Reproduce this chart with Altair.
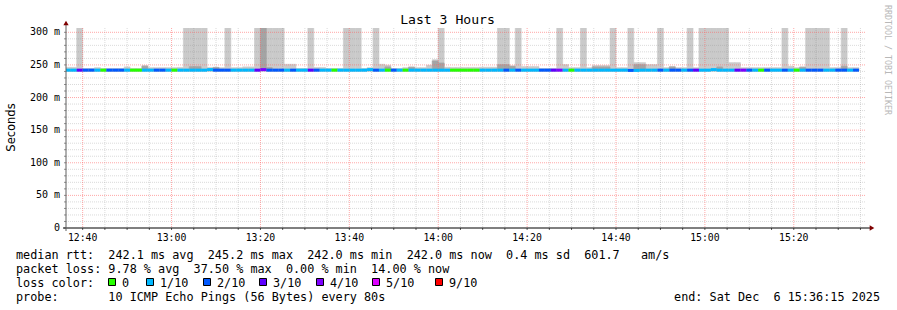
import altair as alt
import pandas as pd

# ---------------- data ----------------
# one sample every 80 s, first sample starts 12:36:00 (seconds since midnight)
SAMPLE_START = 45360
STEP = 80
T = 320  # smoke reaching above the top of the graph

loss = [
    1, 1, 3, 2, 2, 1, 0, 2, 2, 2,
    1, 0, 0, 1, 1, 2, 2, 1, 0, 1,
    1, 1, 1, 1, 1, 2, 2, 2, 1, 1,
    1, 1, 3, 4, 2, 2, 2, 1, 2, 1,
    1, 3, 2, 1, 1, 0, 1, 1, 1, 1,
    1, 1, 2, 1, 0, 2, 1, 0, 1, 1,
    1, 1, 1, 1, 1, 0, 0, 0, 0, 0,
    1, 1, 1, 1, 2, 1, 2, 1, 1, 1,
    2, 2, 3, 4, 1, 0, 1, 1, 1, 1,
    1, 1, 1, 1, 1, 2, 1, 1, 1, 1,
    2, 1, 2, 2, 1, 2, 3, 1, 1, 1,
    1, 1, 1, 3, 4, 2, 1, 0, 2, 1,
    1, 2, 1, 0, 1, 2, 2, 2, 1, 1,
    2, 2, 1, 2,
]

median_ms = [
    242.0, 242.0, 242.0, 242.0, 242.0, 242.0, 242.0, 242.0, 242.0, 242.0,
    242.0, 242.0, 242.0, 242.0, 242.0, 242.0, 242.0, 242.0, 242.0, 242.0,
    242.0, 242.0, 242.0, 242.0, 242.8, 242.0, 242.0, 242.0, 242.0, 242.0,
    242.0, 242.0, 242.0, 242.8, 242.0, 242.0, 242.0, 242.0, 242.0, 242.0,
    242.0, 242.0, 242.0, 242.0, 242.0, 242.0, 242.0, 242.0, 242.0, 242.0,
    242.0, 242.8, 242.0, 242.0, 242.0, 242.0, 242.0, 242.0, 242.0, 242.0,
    242.0, 242.0, 242.0, 242.0, 242.0, 242.0, 242.0, 242.0, 242.0, 242.0,
    242.0, 242.0, 242.0, 242.0, 242.0, 242.0, 242.0, 242.0, 242.0, 242.0,
    242.0, 242.0, 242.0, 242.0, 242.0, 242.0, 242.0, 242.0, 242.0, 242.0,
    242.0, 242.0, 242.0, 242.0, 242.0, 241.6, 241.6, 242.0, 242.0, 242.0,
    242.0, 242.0, 242.0, 242.0, 242.0, 242.0, 242.0, 242.0, 242.0, 242.8,
    242.0, 242.0, 242.0, 242.0, 242.0, 242.0, 242.0, 242.0, 242.0, 242.0,
    242.0, 242.0, 242.0, 242.0, 242.0, 242.0, 242.0, 242.0, 242.0, 242.0,
    242.0, 242.0, 242.0, 242.0,
]

smoke_lo = 240.5
smoke_hi = [
    246.3, 246.3, T, 244.5, 244.5, 245.8, 244.5, 244.5, 244.5, 244.5,
    247.0, 244.5, 244.5, 249.0, 245.8, 245.8, 245.8, 245.8, 245.8, 246.2,
    T, T, T, T, 246.2, 246.5, 245.8, T, 245.8, 245.8,
    247.0, 247.0, T, T, T, T, T, 251.0, 251.0, 244.5,
    244.5, T, 246.2, 246.2, 244.5, 244.5, 244.5, T, T, T,
    244.5, 245.8, T, 251.0, 249.5, 244.5, 244.5, 245.8, 247.0, 245.8,
    245.8, 249.5, 258.0, T, 246.5, 246.2, 246.2, 246.2, 246.2, 246.2,
    246.5, 246.5, 246.5, T, T, 248.5, T, 247.5, 247.5, 247.5,
    244.5, 244.5, 244.5, T, 250.5, 245.8, 245.8, T, 245.8, 249.0,
    249.0, 249.0, T, 245.8, 245.8, T, 253.5, 253.5, 250.5, 250.5,
    T, 245.8, 247.5, 245.8, 245.8, T, 245.8, T, T, T,
    T, T, 253.5, 253.5, 245.8, 245.8, 245.8, 245.8, 245.8, 245.8,
    245.8, T, 248.0, 245.8, 247.0, T, T, T, T, 245.8,
    245.8, T, 245.8, 245.8,
]

inner_lo = 241.0
inner_hi = [
    243, 243, 243, 243, 243, 243, 243, 243, 243, 243,
    243, 243, 243, 248.0, 243, 243, 243, 243, 243, 243,
    243, 247.5, 247.5, 243, 243, 246.0, 243, 243, 243, 243,
    243, 243, 243, T, 246.0, 243, 243, 243, 243, 243,
    243, 243, 243, 243, 243, 243, 243, 243, 243, 243,
    243, 243, 243, 243, 247.0, 243, 243, 243, 246.5, 243,
    243, 243, 256.0, 253.0, 243, 243, 243, 243, 243, 243,
    243, 243, 243, 250.5, 250.5, 248.0, 243, 243, 243, 243,
    243, 243, 243, 243, 243, 243, 243, 243, 243, 247.0,
    247.0, 247.0, 243, 243, 243, 243, 250.5, 250.5, 243, 243,
    243, 243, 247.0, 243, 243, 243, 243, 243, 243, 243,
    247.0, 243, 243, 243, 243, 243, 243, 243, 243, 243,
    243, 243, 243, 243, 246.5, 243, 243, 243, 243, 243,
    243, 248.0, 243, 243,
]

loss_levels = [0, 1, 2, 3, 4, 5, 9]
loss_labels = ["0", "1/10", "2/10", "3/10", "4/10", "5/10", "9/10"]
loss_colors = ["#26ff00", "#00b8ff", "#0059ff", "#5e00ff", "#7e00ff", "#dd00ff", "#ff0000"]

y_ticks = list(range(0, 301, 10))
y_minor_ticks = [v for v in y_ticks if v % 50 != 0]
y_major_ticks = [50, 100, 150, 200, 250, 300]
y_label_values = [0, 50, 100, 150, 200, 250, 300]
y_label_text = ["0", "50 m", "100 m", "150 m", "200 m", "250 m", "300 m"]

x_ticks = list(range(45600, 56101, 300))          # every 5 minutes, 12:40 .. 15:35
x_minor_ticks = [t for t in x_ticks if t % 1200 != 0]
x_major_ticks = [t for t in x_ticks if t % 1200 == 0]
x_label_text = ["12:40", "13:00", "13:20", "13:40", "14:00", "14:20", "14:40", "15:00", "15:20"]

title_text = "Last 3 Hours"
y_title = "Seconds"
watermark = "RRDTOOL / TOBI OETIKER"
line_rtt = "median rtt:  242.1 ms avg  245.2 ms max  242.0 ms min  242.0 ms now  0.4 ms sd  601.7   am/s"
line_loss = "packet loss: 9.78 % avg  37.50 % max  0.00 % min  14.00 % now"
line_color = "loss color:"
line_probe = "probe:       10 ICMP Echo Pings (56 Bytes) every 80s"
line_end = "end: Sat Dec  6 15:36:15 2025"

# ---------------- layout / style ----------------
W, H = 800, 200
PL, PT = 66, 28
MONO = "DejaVu Sans Mono"
SANS = "DejaVu Sans"
X_DOMAIN = [45375, 56175]   # 12:36:15 .. 15:36:15
Y_DOMAIN = [0, 306.6]

xs = alt.Scale(domain=X_DOMAIN, nice=False, zero=False)
ys = alt.Scale(domain=Y_DOMAIN, nice=False, zero=False)

n = len(loss)
samples = pd.DataFrame({
    "t0": [SAMPLE_START + STEP * i for i in range(n)],
    "t1": [SAMPLE_START + STEP * (i + 1) for i in range(n)],
    "loss": loss,
    "median": median_ms,
    "lo": [smoke_lo] * n,
    "hi": smoke_hi,
    "ilo": [inner_lo] * n,
    "ihi": inner_hi,
})

base = alt.Chart(samples)

smoke_outer = base.mark_rect(color="#cacaca", stroke="#cacaca", strokeWidth=0.6, clip=True).encode(
    x=alt.X("t0:Q", scale=xs, axis=None), x2="t1:Q",
    y=alt.Y("lo:Q", scale=ys, axis=None), y2="hi:Q")
smoke_inner = base.mark_rect(color="#a4a4a4", stroke="#a4a4a4", strokeWidth=0.6, clip=True).encode(
    x=alt.X("t0:Q", scale=xs, axis=None), x2="t1:Q",
    y=alt.Y("ilo:Q", scale=ys, axis=None), y2="ihi:Q")


def hgrid(values, color, opacity):
    return alt.Chart(pd.DataFrame({"v": values})).mark_rule(
        color=color, opacity=opacity, strokeDash=[1, 1], strokeWidth=1).encode(
        y=alt.Y("v:Q", scale=ys, axis=None), x=alt.value(0), x2=alt.value(W))


def vgrid(values, color, opacity):
    return alt.Chart(pd.DataFrame({"t": values})).mark_rule(
        color=color, opacity=opacity, strokeDash=[1, 1], strokeWidth=1).encode(
        x=alt.X("t:Q", scale=xs, axis=None), y=alt.value(0), y2=alt.value(H))


hminor = hgrid(y_minor_ticks, "#8c8c8c", 0.32)
hmajor = hgrid(y_major_ticks, "#ff5f5f", 0.55)
vminor = vgrid(x_minor_ticks, "#8c8c8c", 0.32)
vmajor = vgrid(x_major_ticks, "#ff5f5f", 0.55)

median_line = base.mark_rule(strokeWidth=3, strokeCap="butt", clip=True).encode(
    x=alt.X("t0:Q", scale=xs, axis=None), x2="t1:Q",
    y=alt.Y("median:Q", scale=ys, axis=None),
    color=alt.Color("loss:O", scale=alt.Scale(domain=loss_levels, range=loss_colors), legend=None))

# tick marks and tick labels, placed through the scales
y_tick_marks = alt.Chart(pd.DataFrame({"v": y_ticks})).mark_rule(color="#909090").encode(
    y=alt.Y("v:Q", scale=ys, axis=None), x=alt.value(-2), x2=alt.value(0))
x_tick_marks = alt.Chart(pd.DataFrame({"t": x_ticks})).mark_rule(color="#606060").encode(
    x=alt.X("t:Q", scale=xs, axis=None), y=alt.value(H), y2=alt.value(H + 2))
y_labels = alt.Chart(pd.DataFrame({"v": y_label_values, "s": y_label_text})).mark_text(
    align="right", baseline="middle", font=MONO, fontSize=10, color="#000000").encode(
    y=alt.Y("v:Q", scale=ys, axis=None), x=alt.value(60 - PL), text="s:N")
x_labels = alt.Chart(pd.DataFrame({"t": x_major_ticks, "s": x_label_text})).mark_text(
    align="center", baseline="middle", font=MONO, fontSize=9.8, color="#000000").encode(
    x=alt.X("t:Q", scale=xs, axis=None), y=alt.value(238 - PT), text="s:N")

one = pd.DataFrame({"k": [0]})


def rule(x, x2, y, y2, color, width=1):
    return alt.Chart(one).mark_rule(color=color, strokeWidth=width).encode(
        x=alt.value(x), x2=alt.value(x2), y=alt.value(y), y2=alt.value(y2))


def arrow(x, y, shape):
    return alt.Chart(one).mark_point(shape=shape, filled=True, color="#7f0000", size=28, opacity=1).encode(
        x=alt.value(x), y=alt.value(y))


def txt(s, x, y, size=11.8, align="left", font=MONO, angle=0, color="#000000"):
    return alt.Chart(one).mark_text(
        text=s.replace(" ", "\u00a0"), align=align, baseline="middle", font=font,
        fontSize=size, angle=angle, color=color).encode(
        x=alt.value(x - PL), y=alt.value(y - PT))


axes = [
    rule(-3, W + 4, H, H, "#000000"),
    rule(0, 0, -4, H + 3, "#606060"),
    arrow(W + 6, H, "triangle-right"),
    arrow(0, -5, "triangle-up"),
]

texts = [
    txt(title_text, 447.5, 20, size=13.1, align="center"),
    txt(y_title, 12, 127.5, size=11.5, align="center", font=SANS, angle=270),
    txt(watermark, 887, 60, size=8.3, align="center", angle=90, color="#b8b8b8"),
    txt(line_rtt, 16, 254.5),
    txt(line_loss, 16, 268.5),
    txt(line_color, 16, 282.5),
    txt(line_probe, 16, 296.5),
    txt(line_end, 880, 296.5, align="right"),
]

SQ_X = [108, 146, 203, 259, 316, 372, 435]
legend = []
for sx, lab, col in zip(SQ_X, loss_labels, loss_colors):
    legend.append(alt.Chart(one).mark_rect(fill=col, stroke="#000000", strokeWidth=1).encode(
        x=alt.value(sx + 0.5 - PL), x2=alt.value(sx + 7.5 - PL),
        y=alt.value(278.5 - PT), y2=alt.value(285.5 - PT)))
    legend.append(txt(lab, sx + 14, 282.5))

chart = alt.layer(
    smoke_outer, smoke_inner, hminor, vminor, hmajor, vmajor, median_line,
    y_tick_marks, x_tick_marks, y_labels, x_labels,
    *axes, *legend, *texts
).properties(
    width=W, height=H,
    autosize=alt.AutoSizeParams(type="none"),
    padding={"left": PL, "top": PT, "right": 897 - PL - W, "bottom": 310 - PT - H},
    background="#ffffff",
).configure_view(strokeWidth=0)

chart.save("out.html", embed_options={"renderer": "svg", "actions": False})
